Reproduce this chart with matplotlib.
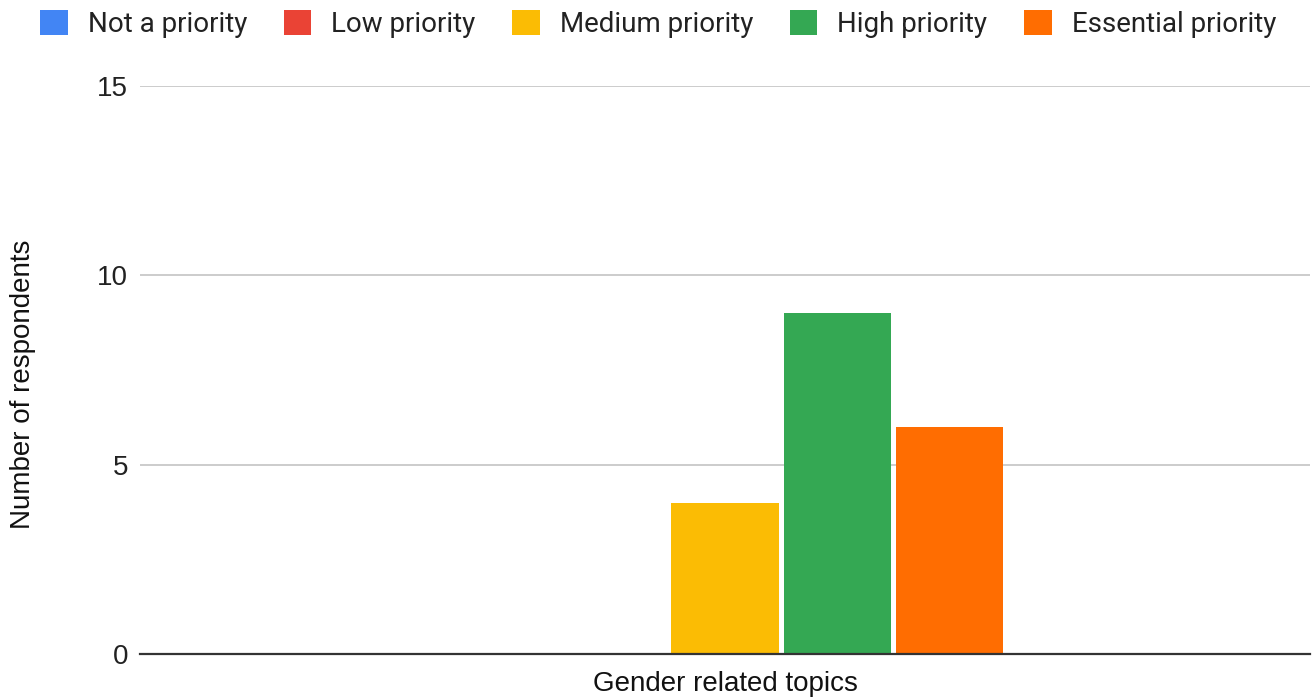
import matplotlib.pyplot as plt
from matplotlib.patches import Patch

# Survey responses for one topic, one bar per priority level
priorities = ['Not a priority', 'Low priority', 'Medium priority', 'High priority', 'Essential priority']
respondents = [0, 0, 4, 9, 6]
colors = ['#4285F4', '#EA4335', '#FBBC04', '#34A853', '#FF6D01']
topic = 'Gender related topics'
yticks = [0, 5, 10, 15]

FS = 20

fig = plt.figure(figsize=(13.16, 7), dpi=100)
ax = fig.add_axes([140 / 1316, 1 - 654 / 700, 1170 / 1316, (654 - 86) / 700])

offsets = [i - (len(priorities) - 1) / 2 for i in range(len(priorities))]
ax.bar(offsets, respondents, width=0.955, color=colors, zorder=3)

ax.set_xlim(-5.21, 5.21)
ax.set_ylim(0, 15)
ax.set_yticks(yticks)
ax.set_xticks([])
ax.yaxis.grid(True, color='#cccccc', linewidth=1.4, zorder=0)
ax.tick_params(axis='y', length=0, pad=8.5, labelsize=FS, labelcolor='#222222')
for lab in ax.get_yticklabels():
    lab.set_fontfamily('Liberation Sans')

for side in ['top', 'right', 'left']:
    ax.spines[side].set_visible(False)
ax.spines['bottom'].set_color('#333333')
ax.spines['bottom'].set_linewidth(1.6)
ax.spines['bottom'].set_zorder(4)

ax.set_xlabel(topic, fontsize=FS, family='Liberation Sans', color='#111111')
ax.set_ylabel('Number of respondents', fontsize=FS, family='Liberation Sans', color='#111111')
ax.xaxis.set_label_coords(0.5, -(684 - 654) / 568, transform=ax.transAxes)
ax.xaxis.label.set_va('center')
ax.yaxis.set_label_coords((23 - 140) / 1170, (654 - 384) / 568, transform=ax.transAxes)
ax.yaxis.label.set_va('center')

handles = [Patch(facecolor=c, edgecolor='none') for c in colors]
fig.legend(handles, priorities, loc='center', bbox_to_anchor=(0.5, 1 - 24 / 700), ncol=5,
           frameon=False, prop={'family': 'Roboto', 'size': FS},
           handlelength=1.0, handleheight=1.0, handletextpad=0.72, columnspacing=1.31,
           labelcolor='#222222')

fig.savefig('out.png', dpi=100)
